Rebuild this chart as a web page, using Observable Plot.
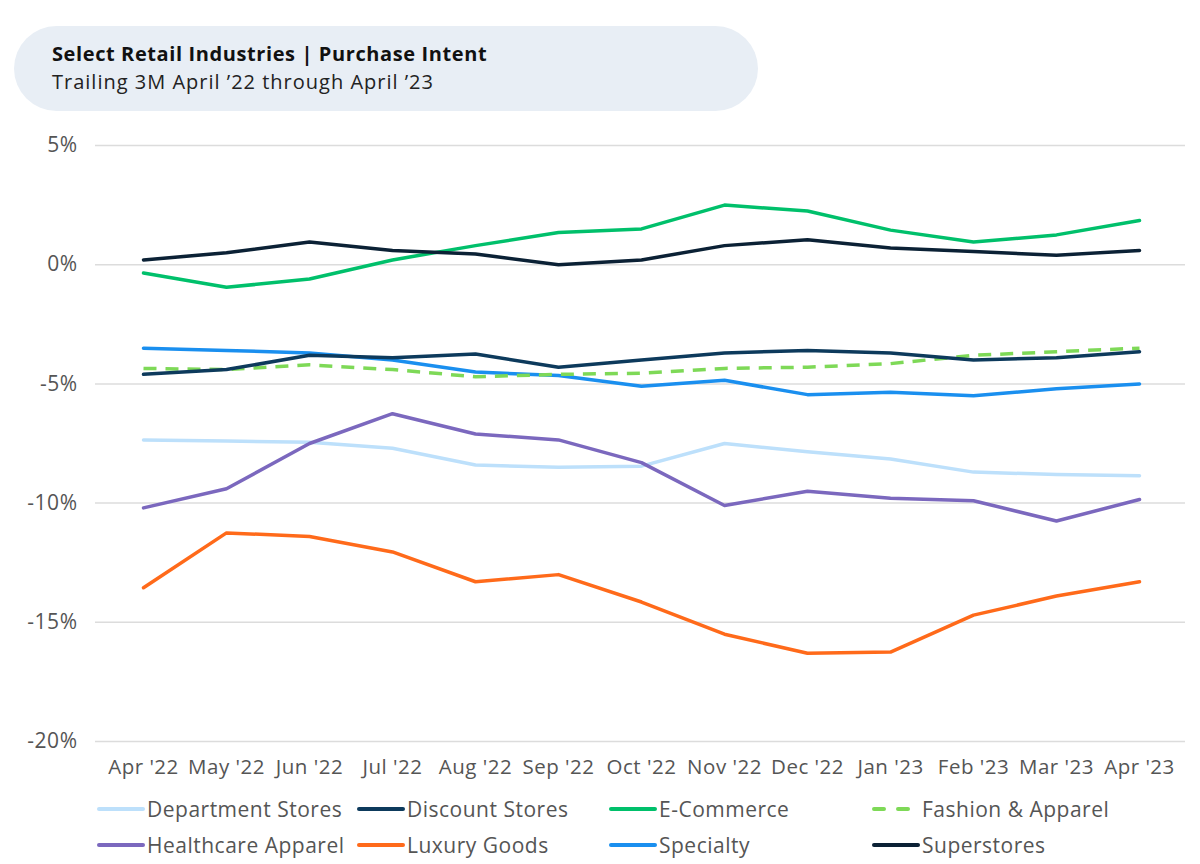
<!DOCTYPE html>
<html>
<head>
<meta charset="utf-8">
<script src="https://cdn.jsdelivr.net/npm/d3@7"></script>
<script src="https://cdn.jsdelivr.net/npm/@observablehq/plot@0.6"></script>
<style>
  body { margin: 0; background: #fff; font-family: "Open Sans", sans-serif; }
  #wrap { position: relative; width: 1200px; height: 864px; }
  #titlebox { position: absolute; left: 14px; top: 26px; width: 744px; height: 85px; background: #e8eef5; border-radius: 43px; }
  #title { position: absolute; left: 38px; top: 18px; font-size: 20px; line-height: 20px; font-weight: 700; color: #111; letter-spacing: 0.6px; }
  #subtitle { position: absolute; left: 38px; top: 46px; font-size: 20px; line-height: 20px; color: #222; letter-spacing: 1px; }
  #chart { position: absolute; left: 0; top: 120px; }
  .leg { position: absolute; display: flex; align-items: center; font-size: 21px; color: #555; white-space: nowrap; letter-spacing: 0.5px; }
  .leg svg { margin-right: 2px; }
  #chart svg text { letter-spacing: 0.5px; }
</style>
</head>
<body>
<div id="wrap">
  <div id="titlebox">
    <div id="title">Select Retail Industries | Purchase Intent</div>
    <div id="subtitle">Trailing 3M April ’22 through April ’23</div>
  </div>
  <div id="chart"></div>
  <div id="legend"></div>
</div>
<script>
const months = ["Apr '22","May '22","Jun '22","Jul '22","Aug '22","Sep '22","Oct '22","Nov '22","Dec '22","Jan '23","Feb '23","Mar '23","Apr '23"];
const seriesNames = ["Department Stores","Discount Stores","E-Commerce","Fashion & Apparel","Healthcare Apparel","Luxury Goods","Specialty","Superstores"];
const seriesColors = ["#bde0fb","#0d3a5c","#00c06b","#7ed957","#7b68be","#ff6a1a","#1a8fef","#0b2135"];
const yTicks = [5, 0, -5, -10, -15, -20];

const departmentStores = [-7.35,-7.4,-7.45,-7.7,-8.4,-8.5,-8.45,-7.5,-7.85,-8.15,-8.7,-8.8,-8.85];
const discountStores   = [-4.6,-4.4,-3.8,-3.9,-3.75,-4.3,-4.0,-3.7,-3.6,-3.7,-4.0,-3.9,-3.65];
const eCommerce        = [-0.35,-0.95,-0.6,0.2,0.8,1.35,1.5,2.5,2.25,1.45,0.95,1.25,1.85];
const fashionApparel   = [-4.35,-4.4,-4.2,-4.4,-4.7,-4.6,-4.55,-4.35,-4.3,-4.15,-3.8,-3.65,-3.5];
const healthcareApparel= [-10.2,-9.4,-7.5,-6.25,-7.1,-7.35,-8.3,-10.1,-9.5,-9.8,-9.9,-10.75,-9.85];
const luxuryGoods      = [-13.55,-11.25,-11.4,-12.05,-13.3,-13.0,-14.15,-15.5,-16.3,-16.25,-14.7,-13.9,-13.3];
const specialty        = [-3.5,-3.6,-3.7,-4.0,-4.5,-4.65,-5.1,-4.85,-5.45,-5.35,-5.5,-5.2,-5.0];
const superstores      = [0.2,0.5,0.95,0.6,0.45,0.0,0.2,0.8,1.05,0.7,0.55,0.4,0.6];

const seriesValues = [departmentStores, discountStores, eCommerce, fashionApparel, healthcareApparel, luxuryGoods, specialty, superstores];

const data = [];
seriesNames.forEach((name, i) => {
  seriesValues[i].forEach((v, j) => data.push({series: name, month: months[j], value: v}));
});

const drawOrder = ["Department Stores","Healthcare Apparel","Luxury Goods","Specialty","Fashion & Apparel","Discount Stores","E-Commerce","Superstores"];

const chart = Plot.plot({
  width: 1200,
  height: 665,
  marginLeft: 95,
  marginRight: 15,
  marginTop: 25,
  marginBottom: 44,
  style: { fontFamily: "'Open Sans', sans-serif", fontSize: "20px", color: "#555", background: "transparent" },
  x: { type: "point", domain: months, range: [138, 1143], padding: 0, label: null },
  y: { domain: [-20, 5], ticks: yTicks, label: null, tickFormat: d => d + "%" },
  marks: [
    Plot.ruleY(yTicks, { stroke: "#dcdcdc", strokeWidth: 1.5 }),
    Plot.axisY({ ticks: yTicks, tickSize: 0, tickPadding: 18, tickFormat: d => d + "%", label: null, fontSize: 21 }),
    Plot.axisX({ tickSize: 0, tickPadding: 18, label: null, fontSize: 20.5 }),
    ...drawOrder.map(name => {
      const idx = seriesNames.indexOf(name);
      return Plot.line(data.filter(d => d.series === name), {
        x: "month", y: "value",
        stroke: seriesColors[idx],
        strokeWidth: 3.5,
        strokeDasharray: name === "Fashion & Apparel" ? "13,9" : null,
        strokeLinecap: name === "Fashion & Apparel" ? "butt" : "round",
        strokeLinejoin: "round"
      });
    })
  ]
});
document.getElementById("chart").appendChild(chart);

const legendCols = [97, 357, 609, 872];
const legendRows = [809, 845];
const legend = document.getElementById("legend");
seriesNames.forEach((name, i) => {
  const div = document.createElement("div");
  div.className = "leg";
  div.style.left = legendCols[i % 4] + "px";
  div.style.top = (legendRows[Math.floor(i / 4)] - 14) + "px";
  div.style.height = "28px";
  const dash = name === "Fashion & Apparel";
  div.innerHTML = `<svg width="48" height="6"><line x1="2" y1="3" x2="46" y2="3" stroke="${seriesColors[i]}" stroke-width="4" stroke-linecap="round" ${dash ? 'stroke-dasharray="10,14"' : ''}/></svg><span>${name}</span>`;
  legend.appendChild(div);
});
</script>
</body>
</html>
